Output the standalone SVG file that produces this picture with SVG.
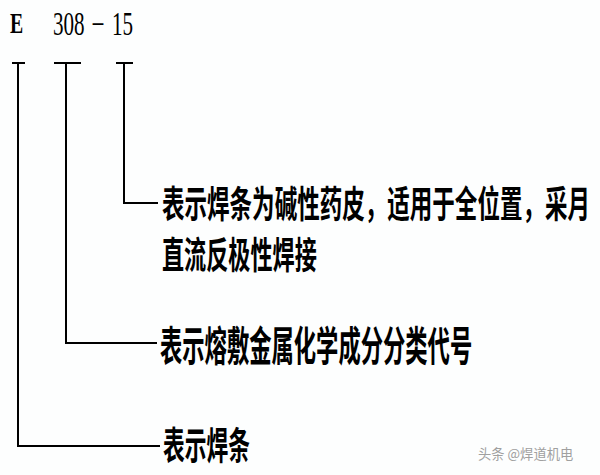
<svg xmlns="http://www.w3.org/2000/svg" width="600" height="475" viewBox="0 0 600 475">
<style>
.code{font-family:"Liberation Serif","DejaVu Serif",serif;fill:#000}
.cjk{font-family:"Noto Sans CJK SC","Noto Sans CJK TC",sans-serif;font-weight:700;fill:#000}
.ln{stroke:#000;stroke-width:2;fill:none}
.wm{font-family:"Noto Sans CJK SC",sans-serif;fill:#a0a0a0;font-size:14px}
</style>
<rect width="600" height="475" fill="#fdfefe"/>
<g id="code">
<text class="code" transform="translate(10,33) scale(0.66,1)" font-size="30" font-weight="700">E</text>
<text class="code" transform="translate(53,35) scale(0.62,1)" font-size="34"><tspan x="0">308</tspan><tspan x="64" y="-3">–</tspan><tspan x="95" y="0">15</tspan></text>
</g>
<g id="connectors">
<path class="ln" d="M12 63H25M18 63V446H160"/>
<path class="ln" d="M54 63H81M66 63V343H157"/>
<path class="ln" d="M116 63H133M124 63V203H158"/>
</g>
<g id="desc-15">
<text class="cjk" transform="translate(162,218) scale(0.609,1)" font-size="37">表示焊条为碱性药皮，适用于全位置，采月</text>
<text class="cjk" transform="translate(162,269) scale(0.598,1)" font-size="37">直流反极性焊接</text>
</g>
<g id="desc-308">
<text class="cjk" transform="translate(160,361) scale(0.544,1)" font-size="41">表示熔敷金属化学成分分类代号</text>
</g>
<g id="desc-E">
<text class="cjk" transform="translate(163,459) scale(0.572,1)" font-size="38">表示焊条</text>
</g>
<text class="wm" transform="translate(478,459) scale(0.95,1)">头条 @焊道机电</text>
</svg>
